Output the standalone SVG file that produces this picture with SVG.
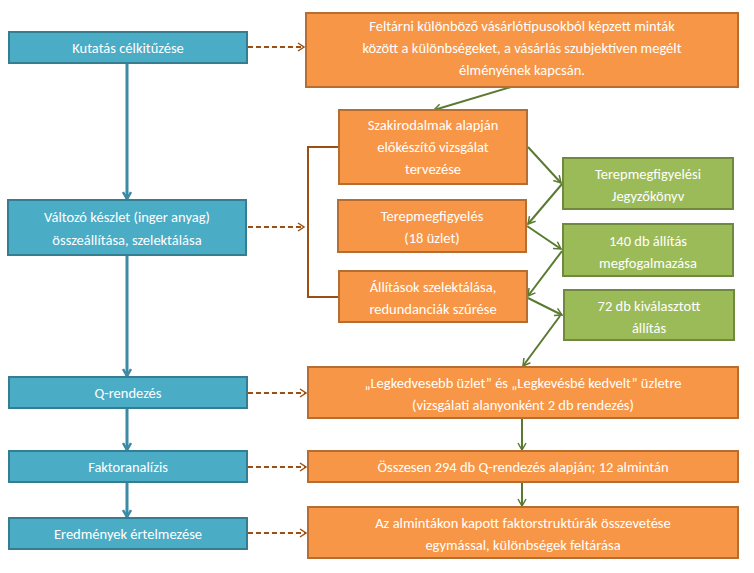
<svg xmlns="http://www.w3.org/2000/svg" width="754" height="573" viewBox="0 0 754 573">
<style>
text{font-family:Calibri,Carlito,"Liberation Sans",sans-serif;font-size:14.5px;fill:#fff;text-anchor:middle}
.b{fill:#4bacc6;stroke:#357d91;stroke-width:2}
.o{fill:#f79646;stroke:#b66d31;stroke-width:2}
.g{fill:#9bbb59;stroke:#71893f;stroke-width:2}
.bl{stroke:#3a8ba3;stroke-width:3;fill:none}
.d{stroke:#9c4f12;stroke-width:2;stroke-dasharray:5 3;fill:none}
.gl{stroke:#5a7a32;stroke-width:2;fill:none}
</style>
<defs>
<marker id="mb" markerWidth="10" markerHeight="10" refX="8" refY="5" orient="auto" markerUnits="userSpaceOnUse"><path d="M1,1 L8,5 L1,9" fill="none" stroke="#3a8ba3" stroke-width="2.5"/></marker>
<marker id="md" markerWidth="10" markerHeight="10" refX="8" refY="5" orient="auto" markerUnits="userSpaceOnUse"><path d="M2,1 L8,5 L2,9" fill="none" stroke="#9c4f12" stroke-width="1.5"/></marker>
<marker id="mg" markerWidth="10" markerHeight="10" refX="8" refY="5" orient="auto" markerUnits="userSpaceOnUse"><path d="M1,1 L8,5 L1,9" fill="none" stroke="#5a7a32" stroke-width="1.5"/></marker>
</defs>
<g id="connectors">
<path class="bl" d="M127,63 V199" marker-end="url(#mb)"/>
<path class="bl" d="M127,255 V376" marker-end="url(#mb)"/>
<path class="bl" d="M127,408 V450" marker-end="url(#mb)"/>
<path class="bl" d="M127,482 V517" marker-end="url(#mb)"/>
<path class="d" d="M248,47 H304" marker-end="url(#md)"/>
<path class="d" d="M248,227 H304" marker-end="url(#md)"/>
<path class="d" d="M248,393 H306" marker-end="url(#md)"/>
<path class="d" d="M248,467 H306" marker-end="url(#md)"/>
<path class="d" d="M248,533 H306" marker-end="url(#md)"/>
<path d="M338,147 H308 V297 H338" stroke="#9c4f12" stroke-width="2" fill="none"/>
<path class="gl" d="M511,87 L434,110" marker-end="url(#mg)"/>
<path class="gl" d="M528,147 L561,183" marker-end="url(#mg)"/>
<path class="gl" d="M562,184 L528,224" marker-end="url(#mg)"/>
<path class="gl" d="M527,226 L561,249" marker-end="url(#mg)"/>
<path class="gl" d="M562,251 L528,296" marker-end="url(#mg)"/>
<path class="gl" d="M528,298 L562,315" marker-end="url(#mg)"/>
<path class="gl" d="M560,316 L523,366" marker-end="url(#mg)"/>
<path class="gl" d="M522,418 V450" marker-end="url(#mg)"/>
<path class="gl" d="M522,482 V506" marker-end="url(#mg)"/>
</g>
<g id="n1"><rect class="b" x="9" y="32" width="238" height="31"/><text x="128" y="53">Kutatás célkitűzése</text></g>
<g id="n2"><rect class="b" x="8" y="200" width="238" height="55"/><text x="127" y="222">Változó készlet (inger anyag)</text><text x="127" y="245">összeállítása, szelektálása</text></g>
<g id="n3"><rect class="b" x="9" y="377" width="238" height="31"/><text x="128" y="398">Q-rendezés</text></g>
<g id="n4"><rect class="b" x="9" y="451" width="238" height="31"/><text x="128" y="472">Faktoranalízis</text></g>
<g id="n5"><rect class="b" x="9" y="518" width="238" height="31"/><text x="128" y="539">Eredmények értelmezése</text></g>
<g id="o1"><rect class="o" x="306" y="13" width="432" height="74"/><text x="522" y="31">Feltárni különböző vásárlótípusokból képzett minták</text><text x="522" y="53">között a különbségeket, a vásárlás szubjektíven megélt</text><text x="522" y="75">élményének kapcsán.</text></g>
<g id="o2"><rect class="o" x="339" y="110" width="188" height="74"/><text x="433" y="130">Szakirodalmak alapján</text><text x="433" y="152">előkészítő vizsgálat</text><text x="433" y="174">tervezése</text></g>
<g id="o3"><rect class="o" x="338" y="200" width="188" height="52"/><text x="432" y="221">Terepmegfigyelés</text><text x="432" y="243">(18 üzlet)</text></g>
<g id="o4"><rect class="o" x="339" y="271" width="188" height="51"/><text x="433" y="292">Állítások szelektálása,</text><text x="433" y="314">redundanciák szűrése</text></g>
<g id="g1"><rect class="g" x="563" y="158" width="170" height="51"/><text x="648" y="179">Terepmegfigyelési</text><text x="648" y="201">Jegyzőkönyv</text></g>
<g id="g2"><rect class="g" x="563" y="224" width="170" height="52"/><text x="648" y="246">140 db állítás</text><text x="648" y="268">megfogalmazása</text></g>
<g id="g3"><rect class="g" x="564" y="290" width="170" height="50"/><text x="649" y="311">72 db kiválasztott</text><text x="649" y="333">állítás</text></g>
<g id="o5"><rect class="o" x="308" y="367" width="430" height="51"/><text x="523" y="388">„Legkedvesebb üzlet” és „Legkevésbé kedvelt” üzletre</text><text x="523" y="410">(vizsgálati alanyonként 2 db rendezés)</text></g>
<g id="o6"><rect class="o" x="308" y="451" width="430" height="31"/><text x="523" y="472">Összesen 294 db Q-rendezés alapján; 12 almintán</text></g>
<g id="o7"><rect class="o" x="308" y="507" width="430" height="51"/><text x="523" y="528">Az almintákon kapott faktorstruktúrák összevetése</text><text x="523" y="550">egymással, különbségek feltárása</text></g>
</svg>
